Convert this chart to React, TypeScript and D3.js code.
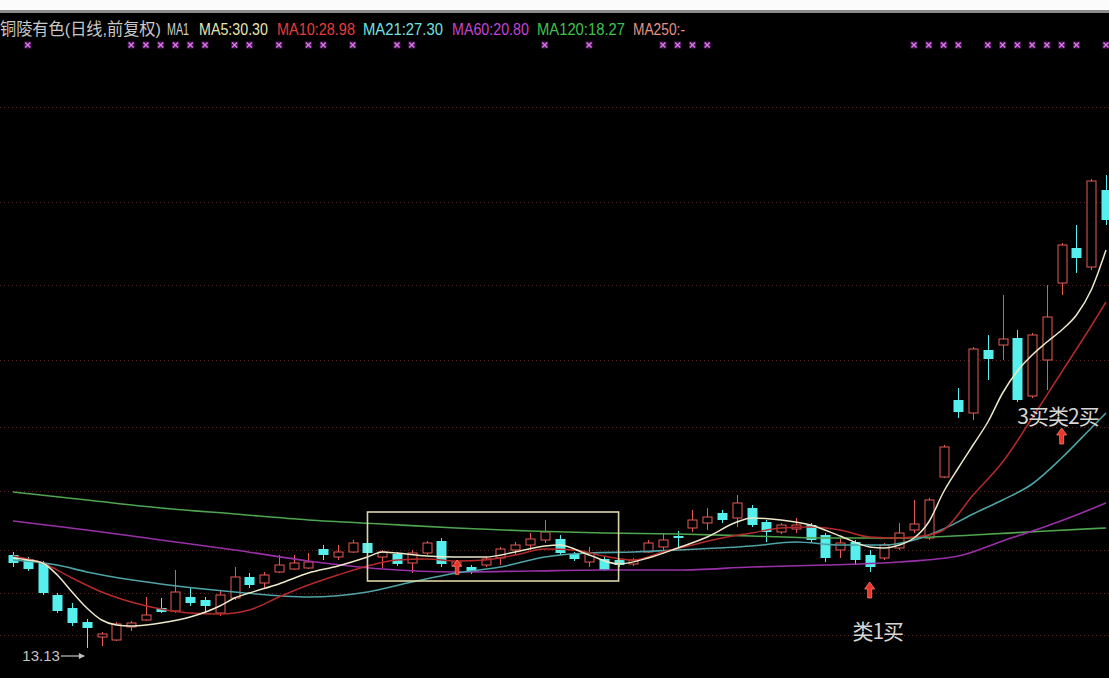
import React from 'react';
import * as d3 from 'd3';

const W = 1109;
const H = 678;

// ---- candle data (price units) ----
const candleOpen = [16.85,16.69,16.53,15.25,14.73,14.17,13.57,13.45,13.97,14.25,
14.73,14.61,15.17,15.05,14.53,15.13,15.97,15.73,16.17,16.29,
16.33,17.09,16.77,16.97,17.33,16.77,16.89,16.53,16.93,17.41,
16.41,16.37,16.45,16.73,17.05,17.25,17.45,17.49,16.89,16.57,
16.69,16.65,16.49,16.97,17.17,17.61,17.93,18.13,18.53,18.33,
18.73,18.17,17.77,17.89,18.05,17.65,17.05,17.37,16.85,16.73,
17.13,17.85,17.53,19.97,23.05,22.53,25.05,25.25,25.53,23.21,
24.65,27.73,29.13,28.37,31.45];
const candleHigh = [16.97,16.77,16.61,15.33,14.93,14.29,13.77,14.17,14.21,15.17,
15.13,16.25,15.53,15.17,15.41,16.37,16.13,16.17,16.85,16.85,
16.93,17.25,17.25,17.45,17.45,17.05,16.97,17.05,17.41,17.53,
16.65,16.45,16.77,17.17,17.37,17.73,18.25,17.65,16.97,17.17,
16.77,16.73,16.73,17.45,17.73,17.81,18.65,18.73,18.65,19.25,
18.85,18.25,18.13,18.33,18.13,17.73,17.53,17.45,17.05,17.33,
18.13,19.05,19.13,21.25,23.53,25.17,25.65,27.25,25.85,25.73,
27.65,29.33,30.05,31.89,32.05];
const candleLow = [16.37,16.21,15.25,14.53,14.01,13.13,13.21,13.41,13.81,14.21,
14.53,14.53,14.81,14.53,14.41,15.05,15.53,15.53,16.13,16.25,
16.29,16.65,16.65,16.93,16.85,16.33,16.41,16.13,16.85,16.37,
16.33,16.09,16.37,16.45,16.85,17.05,17.33,16.85,16.61,16.37,
16.21,16.37,16.41,16.93,17.05,17.13,17.77,17.85,18.13,17.97,
17.97,17.37,17.69,17.73,17.37,16.57,16.73,16.45,16.17,16.65,
17.05,17.73,17.45,19.93,22.33,22.25,23.85,24.65,22.97,23.13,
23.45,27.25,28.13,28.25,30.05];
const candleClose = [16.53,16.29,15.33,14.61,14.13,13.93,13.69,14.09,14.13,14.45,
14.57,15.37,14.93,14.81,15.25,15.97,15.65,16.05,16.45,16.53,
16.57,16.85,16.97,17.33,16.93,16.97,16.49,16.93,17.33,16.49,
16.57,16.21,16.69,17.09,17.25,17.49,17.77,16.93,16.69,16.93,
16.25,16.45,16.65,17.33,17.45,17.53,18.25,18.37,18.25,18.93,
18.05,17.77,18.05,18.05,17.45,16.73,17.33,16.65,16.37,17.25,
17.73,18.09,19.05,21.17,22.57,25.09,24.69,25.49,23.05,25.65,
26.37,29.25,28.73,31.81,30.25];

// ---- moving averages (sampled at bar indices) ----
const ma5Idx = [0,1,2,3,4,5,6,7,8,9,10,12,14,15,16,18,20,22,24,25,26,28,30,32,34,36,37,39,41,43,45,47,49,50,52,54,56,58,59,60,61,62,63,64,65,66,67,68,69,70,71,72,73,74];
const ma5Val = [16.73,16.65,16.53,16.05,15.37,14.73,14.25,14.05,14.01,14.05,14.13,14.37,14.81,15.13,15.33,15.69,16.13,16.41,16.77,16.97,16.93,16.81,16.77,16.77,16.97,17.21,17.25,16.85,16.49,16.73,17.13,17.57,18.17,18.33,18.25,18.05,17.61,17.17,17.13,17.25,17.53,18.17,19.37,20.33,21.25,22.17,23.33,24.21,24.85,25.37,25.85,26.45,27.45,29.05];

const ma10Idx = [0,2,4,6,8,10,12,14,16,18,20,22,24,26,28,30,32,34,36,38,40,42,44,46,48,50,52,54,56,58,60,62,63,65,67,69,71,73,74];
const ma10Val = [16.81,16.53,15.93,15.37,14.97,14.69,14.53,14.49,14.65,15.17,15.65,16.05,16.41,16.65,16.69,16.61,16.65,16.85,17.09,17.05,16.81,16.65,16.97,17.25,17.53,17.73,17.93,17.97,17.85,17.57,17.53,17.65,17.85,19.25,20.57,22.33,24.17,26.01,26.97];

const ma21Idx = [0,3,5,10,15,20,24,27,30,33,36,39,42,45,50,53,56,59,61,63,65,67,69,71,73,74];
const ma21Val = [16.65,16.45,16.17,15.69,15.37,15.17,15.37,15.77,16.13,16.37,16.77,16.93,16.97,17.05,17.21,17.37,17.25,17.25,17.45,17.89,18.49,19.05,19.69,20.73,21.93,22.53];

const ma60Idx = [0,5,10,15,20,25,30,35,40,45,50,55,60,64,67,70,72,74];
const ma60Val = [18.21,17.85,17.45,17.05,16.61,16.29,16.17,16.21,16.25,16.25,16.37,16.45,16.57,16.81,17.41,18.01,18.45,18.93];

const ma120Idx = [0,5,10,15,20,25,30,35,40,45,50,55,60,65,70,74];
const ma120Val = [19.37,19.05,18.73,18.49,18.25,18.09,17.93,17.81,17.73,17.69,17.61,17.53,17.53,17.65,17.81,17.93];

// ---- header ----
const titleText = '铜陵有色(日线,前复权)';
const maLabels = ['MA1', 'MA5:30.30', 'MA10:28.98', 'MA21:27.30', 'MA60:20.80', 'MA120:18.27', 'MA250:-'];

// ---- signal marks (bar indices) ----
const signalIdx = [1,8,9,10,11,12,13,15,16,18,20,21,23,26,27,36,39,44,45,46,47,61,62,63,64,66,67,68,69,70,71,72,74];

// ---- grid levels (price) ----
const gridLevels = [34.77, 30.97, 27.65, 24.65, 21.97, 19.41, 17.05, 15.33, 13.65];

// ---- consolidation box ----
const boxStartIdx = 24;
const boxEndIdx = 41;
const boxHigh = 18.57;
const boxLow = 15.81;

// ---- annotations ----
const lowLabel = '13.13';
const lowLabelIdx = 5;
const buyTexts = ['类1买', '3买类2买'];
const buyTextIdx = [58.55, 70.75];
const buyTextPrice = [13.5, 22.09];
const arrowIdx = [58, 71, 30];
const arrowPrice = [15.77, 21.93, 16.65];

const xScale = d3.scaleLinear().domain([0, candleOpen.length - 1]).range([13, 1106]);
const yScale = d3.scaleLinear().domain([11.93, 38.57]).range([H, 12]);

const UP = '#e65a55';
const DOWN = '#55f0ee';
const HEADER_FONT = "'Liberation Sans', 'Noto Sans CJK SC', sans-serif";
const HEADER_SIZE = 17;

let measureCtx: CanvasRenderingContext2D | null = null;
function measure(t: string) {
  if (!measureCtx) {
    const c = document.createElement('canvas');
    measureCtx = c.getContext('2d');
  }
  if (!measureCtx) return t.length * HEADER_SIZE * 0.6;
  measureCtx.font = `${HEADER_SIZE}px ${HEADER_FONT}`;
  return measureCtx.measureText(t).width;
}

function maPath(idx: number[], val: number[]) {
  const pts: [number, number][] = idx.map((d, i) => [d, val[i]]);
  const line = d3.line<[number, number]>()
    .x(d => xScale(d[0]))
    .y(d => yScale(d[1]))
    .curve(d3.curveMonotoneX);
  return line(pts) || '';
}

function arrowShape(cx: number, ty: number, s = 1) {
  const p = d3.path();
  p.moveTo(cx, ty);
  p.lineTo(cx + 5 * s, ty + 7 * s);
  p.lineTo(cx + 2 * s, ty + 7 * s);
  p.lineTo(cx + 2 * s, ty + 16 * s);
  p.lineTo(cx - 2 * s, ty + 16 * s);
  p.lineTo(cx - 2 * s, ty + 7 * s);
  p.lineTo(cx - 5 * s, ty + 7 * s);
  p.closePath();
  return p.toString();
}

function SqueezedText({ text, x, y, width, fill }: { text: string; x: number; y: number; width: number; fill: string }) {
  const natural = measure(text);
  const sx = natural > 0 ? width / natural : 1;
  return (
    <g transform={`translate(${x},${y}) scale(${sx},1)`}>
      <text x={0} y={0} fontFamily={HEADER_FONT} fontSize={HEADER_SIZE} fill={fill}>{text}</text>
    </g>
  );
}

export default function App() {
  const bw = 9;
  const labelColors = ['#d0d0d0', '#e6e6b4', '#e53c3c', '#74e0e0', '#c445d4', '#3fc24f', '#e39482'];
  const labelX = [167, 199, 277, 363, 452, 537, 633];
  const labelW = [22, 69, 78, 80, 77, 88, 52];

  const candles = candleOpen.map((o, i) => {
    const c = candleClose[i];
    const h = candleHigh[i];
    const l = candleLow[i];
    const up = c >= o;
    const x = Math.round(xScale(i)) + 0.5;
    const yTop = yScale(Math.max(o, c));
    const yBot = yScale(Math.min(o, c));
    const bodyH = Math.max(1.5, yBot - yTop);
    const yH = yScale(h);
    const yL = yScale(l);
    if (up) {
      return (
        <g key={i}>
          <line x1={x} x2={x} y1={yH} y2={yTop} stroke={UP} strokeWidth={1} />
          <line x1={x} x2={x} y1={yTop + bodyH} y2={yL} stroke={UP} strokeWidth={1} />
          <rect x={x - bw / 2} y={yTop} width={bw} height={bodyH} fill="#000" stroke={UP} strokeWidth={1} />
        </g>
      );
    }
    return (
      <g key={i}>
        <line x1={x} x2={x} y1={yH} y2={yL} stroke={DOWN} strokeWidth={1} />
        <rect x={x - bw / 2 - 0.5} y={yTop} width={bw + 1} height={bodyH} fill={DOWN} />
      </g>
    );
  });

  return (
    <svg width={W} height={H} style={{ position: 'absolute', left: 0, top: 0, display: 'block' }}>
      <rect x={0} y={0} width={W} height={H} fill="#000" />
      <rect x={0} y={0} width={W} height={10} fill="#fbfbfb" />
      <rect x={0} y={10} width={W} height={3} fill="#8c8c8c" />

      {gridLevels.map((g, i) => (
        <line key={i} x1={0} x2={W} y1={Math.round(yScale(g)) + 0.5} y2={Math.round(yScale(g)) + 0.5}
          stroke="#5a2424" strokeWidth={1} strokeDasharray="1,3" />
      ))}

      {/* header */}
      <SqueezedText text={titleText} x={0} y={35} width={161} fill="#c8c8c8" />
      {maLabels.map((t, i) => (
        <SqueezedText key={t} text={t} x={labelX[i]} y={35} width={labelW[i]} fill={labelColors[i]} />
      ))}

      {/* signal marks */}
      {signalIdx.map((s, i) => {
        const cx = xScale(s);
        const cy = 45;
        return (
          <g key={i}>
            <rect x={cx - 3.5} y={cy - 3.5} width={7} height={7} fill="#5a1a66" opacity={0.8} />
            <path d={`M${cx - 2.5},${cy - 2.5}L${cx + 2.5},${cy + 2.5}M${cx + 2.5},${cy - 2.5}L${cx - 2.5},${cy + 2.5}`}
              stroke="#d87ae6" strokeWidth={1.4} />
          </g>
        );
      })}

      {/* candles */}
      {candles}

      {/* moving averages */}
      <path d={maPath(ma120Idx, ma120Val)} fill="none" stroke="#4fa54f" strokeWidth={1.6} />
      <path d={maPath(ma60Idx, ma60Val)} fill="none" stroke="#9a30a8" strokeWidth={1.6} />
      <path d={maPath(ma21Idx, ma21Val)} fill="none" stroke="#4fa3a6" strokeWidth={1.6} />
      <path d={maPath(ma10Idx, ma10Val)} fill="none" stroke="#b52a2a" strokeWidth={1.5} />
      <path d={maPath(ma5Idx, ma5Val)} fill="none" stroke="#ece8c8" strokeWidth={1.5} />

      {/* consolidation box */}
      <rect x={xScale(boxStartIdx)} y={yScale(boxHigh)} width={xScale(boxEndIdx) - xScale(boxStartIdx)}
        height={yScale(boxLow) - yScale(boxHigh)} fill="none" stroke="#ddd6a8" strokeWidth={1.6} />

      {/* arrows */}
      {arrowIdx.map((a, i) => (
        <path key={i} d={arrowShape(xScale(a) + (i === 2 ? 1 : 0), yScale(arrowPrice[i]), i === 2 ? 0.9 : 1)}
          fill="#e8362c" stroke="#ff7a6c" strokeWidth={0.8} />
      ))}

      {/* buy texts */}
      {buyTexts.map((t, i) => (
        <text key={t} x={xScale(buyTextIdx[i])} y={yScale(buyTextPrice[i])} textAnchor="middle"
          fontFamily="'Noto Sans CJK SC', 'Liberation Sans', sans-serif" fontSize={21} fill="#d6d6d6"
          letterSpacing={-1}>{t}</text>
      ))}

      {/* low label */}
      <text x={xScale(lowLabelIdx) - 27} y={yScale(13.13) + 13} textAnchor="end"
        fontFamily="'Liberation Sans', sans-serif" fontSize={15} fill="#c4c4c4">{lowLabel}</text>
      <line x1={xScale(lowLabelIdx) - 26} x2={xScale(lowLabelIdx) - 3} y1={yScale(13.13) + 8} y2={yScale(13.13) + 8}
        stroke="#c4c4c4" strokeWidth={1.2} />
      <path d={`M${xScale(lowLabelIdx) - 2},${yScale(13.13) + 8}l-6,-3l0,6z`} fill="#c4c4c4" />
    </svg>
  );
}
